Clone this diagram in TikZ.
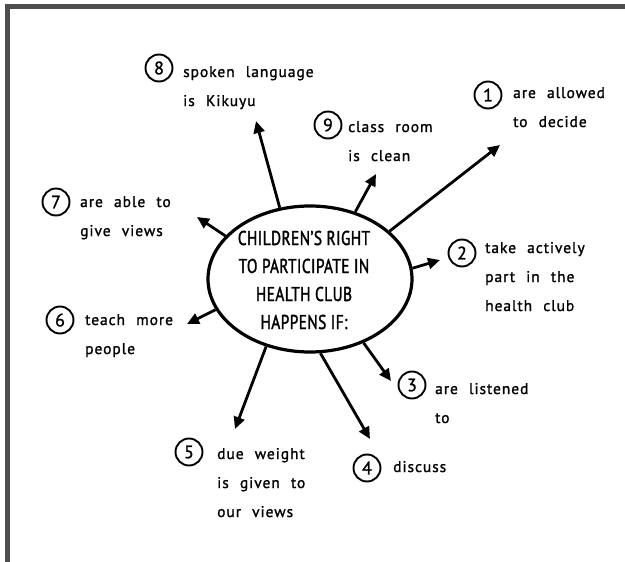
\documentclass[tikz,border=0pt]{standalone}
\usepackage{fontspec}
\setmainfont{PT Sans}
\newfontfamily\handfont[LetterSpace=6,WordSpace=2.2,FakeBold=1.2]{PT Sans}
\newfontfamily\capsfont[FakeStretch=0.77,FakeBold=1.6,LetterSpace=2]{PT Sans}
\usetikzlibrary{arrows.meta,shapes.geometric}
\definecolor{framegray}{RGB}{77,77,77}
\begin{document}
\begin{tikzpicture}[x=1pt,y=-1pt,
  num/.style={circle,draw,line width=1.9pt,minimum size=27pt,inner sep=0pt,font=\handfont\fontsize{18}{18}\selectfont},
  lbl/.style={anchor=base west,align=left,inner sep=0pt,font=\handfont\fontsize{15.5}{29}\selectfont},
  arr/.style={line width=2.8pt,-{Triangle[length=12pt,width=11pt]}},
  hub/.style={ellipse,draw,line width=3.2pt,minimum width=204pt,minimum height=146pt,inner sep=0pt},
  hubtext/.style={align=center,font=\capsfont\fontsize{20}{28}\selectfont}
]
\useasboundingbox (0,0) rectangle (625,562);
\draw[line width=5pt,framegray] (7.5,562) -- (7.5,6.5) -- (625,6.5);

\node[hub] (c) at (310,279) {};
\node[hubtext] (ct) at (304,280) {CHILDREN’S RIGHT\\TO PARTICIPATE IN\\HEALTH CLUB\\HAPPENS IF:};

% number circles
\node[num] (n1) at (488,95) {1};
\node[num] (n2) at (462,253) {2};
\node[num] (n3) at (412,385) {3};
\node[num] (n4) at (367,468) {4};
\node[num] (n5) at (189,452) {5};
\node[num] (n6) at (60,320) {6};
\node[num] (n7) at (56,202) {7};
\node[num] (n8) at (159,68) {8};
\node[num] (n9) at (328,125) {9};

% labels (anchored at the baseline of their last line)
\node[lbl] (l1) at (513,127) {are allowed\\to decide};
\node[lbl] (l2) at (485,311) {take actively\\part in the\\health club};
\node[lbl] (l3) at (435,423) {are listened\\to};
\node[lbl] (l4) at (393,472) {discuss};
\node[lbl] (l5) at (217,517) {due weight\\is given to\\our views};
\node[lbl] (l6) at (85,354) {teach more\\people};
\node[lbl] (l7) at (80,236) {are able to\\give views};
\node[lbl] (l8) at (183,106) {spoken language\\is Kikuyu};
\node[lbl] (l9) at (348,161) {class room\\is clean};

% arrow tips
\coordinate (t1) at (500,145);
\coordinate (t2) at (440,260);
\coordinate (t3) at (391,381);
\coordinate (t4) at (370,439);
\coordinate (t5) at (235,429);
\coordinate (t6) at (187,324);
\coordinate (t7) at (197,217);
\coordinate (t8) at (256,121);
\coordinate (t9) at (376,174);

\draw[arr] (c.31.4) -- (t1);
\draw[arr] (c.6.4) -- (t2);
\draw[arr] (c.-50.4) -- (t3);
\draw[arr] (c.-82.4) -- (t4);
\draw[arr] (c.-123.7) -- (t5);
\draw[arr] (c.-162.5) -- (t6);
\draw[arr] (c.153.7) -- (t7);
\draw[arr] (c.113) -- (t8);
\draw[arr] (c.56.5) -- (t9);
\end{tikzpicture}
\end{document}
